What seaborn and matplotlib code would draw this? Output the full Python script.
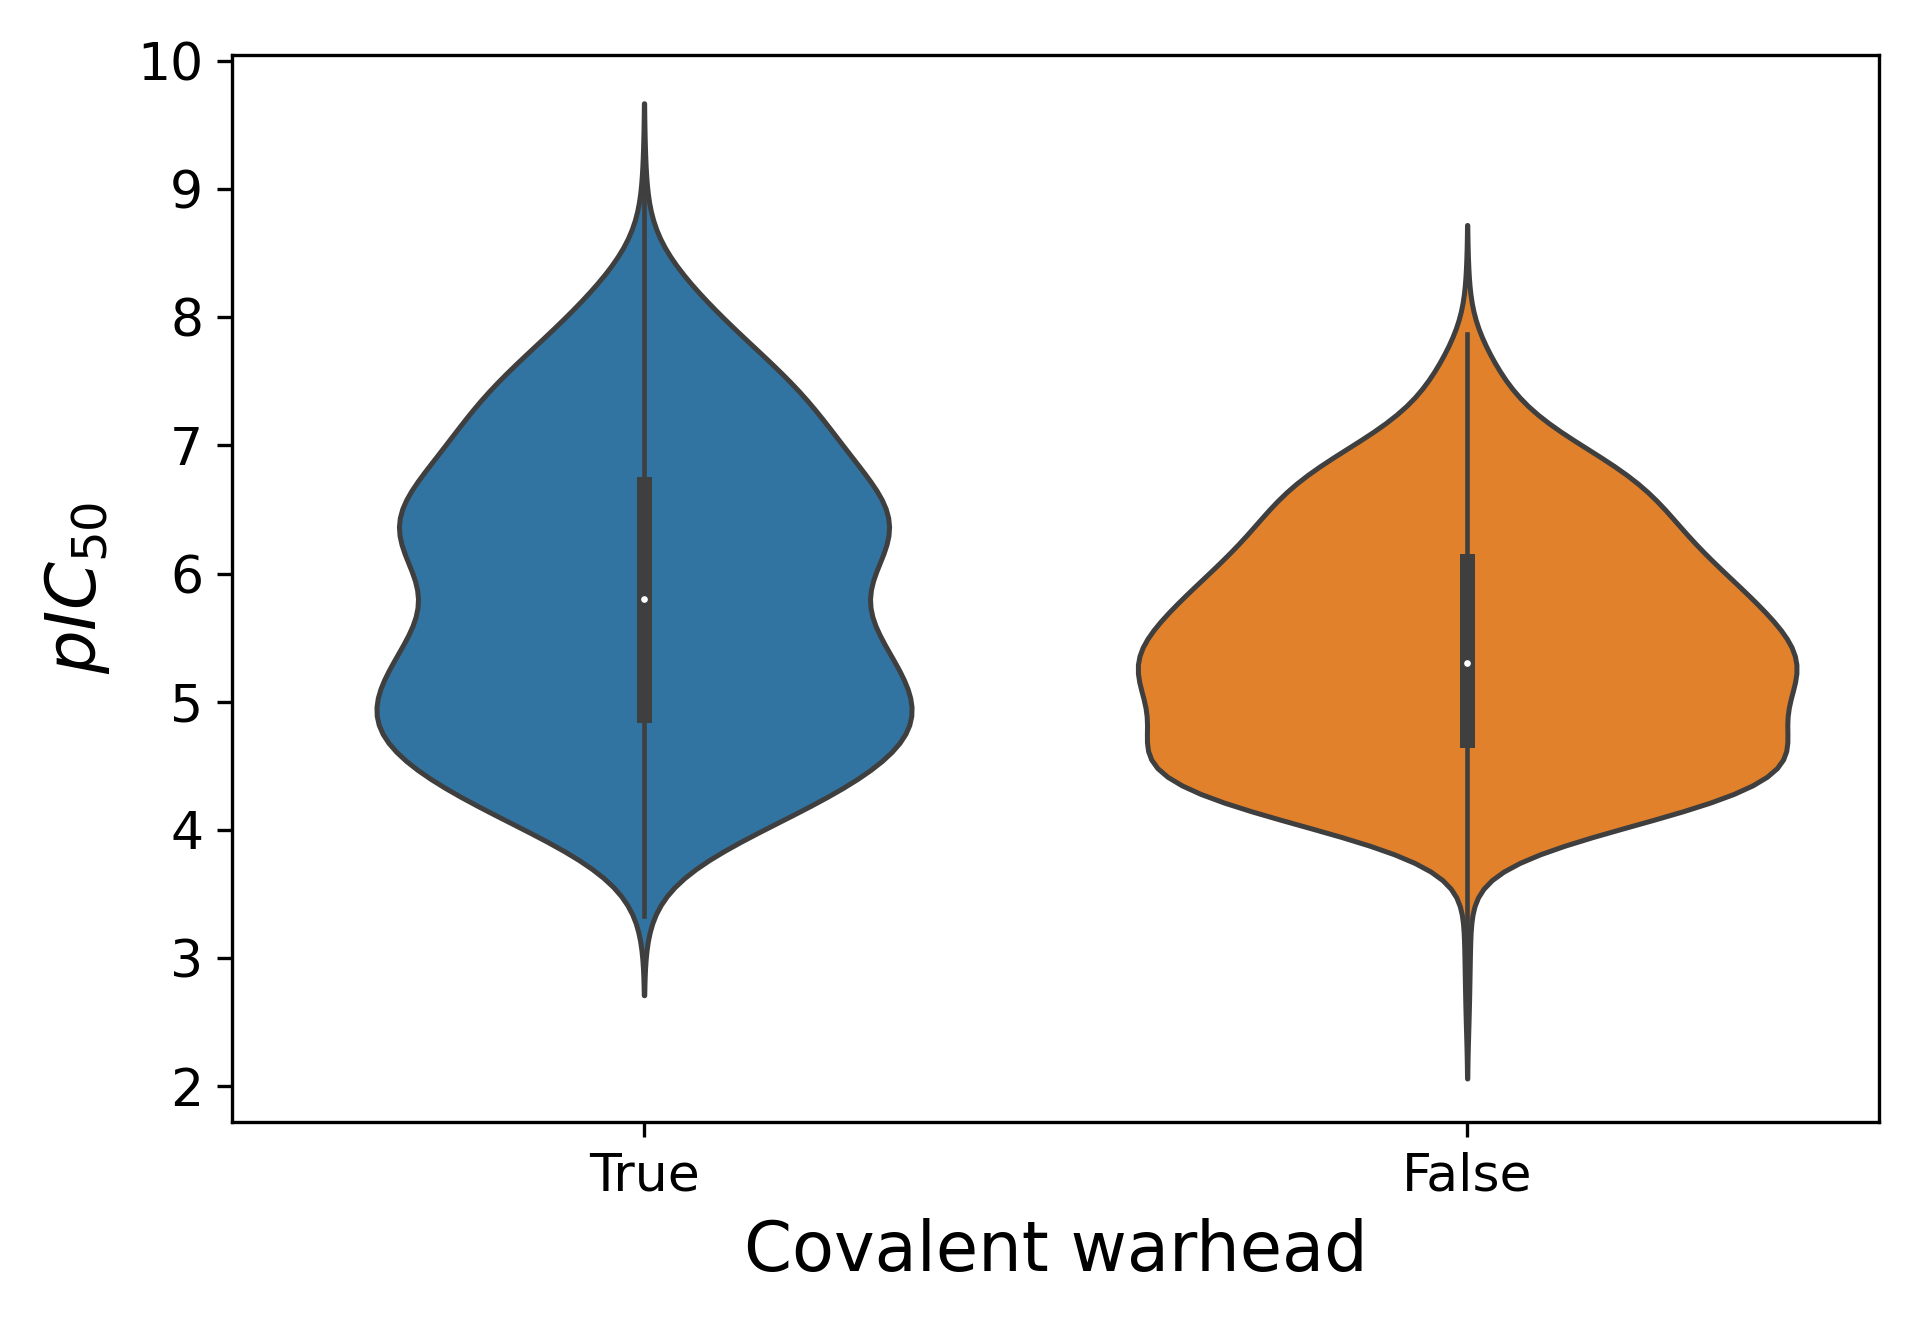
import numpy as np
import pandas as pd
import matplotlib
matplotlib.use("Agg")
import matplotlib.pyplot as plt
import seaborn as sns

plt.rcParams['font.family'] = ['DejaVu Sans']

# 공유결합 탄두 여부별 pIC50 분포 (0.1 단위 구간값, 구간별 개수)
groups = ["True", "False"]
colors = ["#1f77b4", "#ff7f0e"]

true_levels = [3.33, 3.5, 3.6, 3.7, 3.8, 3.9, 4.0, 4.1, 4.2, 4.3, 4.4, 4.5, 4.6, 4.7, 4.8, 4.9,
               5.0, 5.1, 5.2, 5.3, 5.4, 5.5, 5.6, 5.7, 5.8, 5.9, 6.0, 6.1, 6.2, 6.3, 6.4, 6.5,
               6.6, 6.7, 6.8, 6.9, 7.0, 7.1, 7.2, 7.3, 7.4, 7.5, 7.6, 7.7, 7.8, 7.9, 8.0, 8.1,
               8.2, 8.3, 8.4, 8.5, 8.7, 9.05]
true_counts = [1, 1, 1, 3, 6, 11, 14, 20, 24, 26, 28, 31, 33, 36, 37, 37,
               36, 34, 32, 31, 32, 31, 29, 26, 23, 25, 28, 31, 33, 34, 34, 34,
               32, 29, 26, 25, 25, 24, 23, 22, 21, 20, 17, 15, 13, 11, 9, 8,
               7, 6, 3, 1, 1, 1]

false_levels = [2.56, 2.87, 3.1, 3.3, 3.5, 3.65, 3.8, 3.9, 4.0, 4.1, 4.2, 4.3, 4.4, 4.5, 4.6, 4.7,
                4.8, 4.9, 5.0, 5.1, 5.2, 5.3, 5.4, 5.5, 5.6, 5.7, 5.8, 5.9, 6.0, 6.1, 6.2, 6.3,
                6.4, 6.5, 6.6, 6.7, 6.8, 6.9, 7.0, 7.1, 7.2, 7.3, 7.4, 7.5, 7.6, 7.7, 7.8, 7.87,
                8.22]
false_counts = [1, 1, 1, 1, 1, 1, 2, 9, 22, 37, 45, 50, 52, 54, 55, 52,
                48, 46, 49, 53, 56, 55, 54, 52, 49, 47, 46, 44, 41, 38, 36, 34,
                33, 32, 30, 29, 27, 25, 16, 12, 11, 8, 6, 6, 5, 4, 2, 1,
                1]

# 바이올린별 커널 폭(데이터 단위), 최대 폭
bandwidths = [0.31, 0.25]
widths = [0.65, 0.8]

fig, ax = plt.subplots(figsize=(1921 / 300, 1331 / 300), dpi=300)
fig.subplots_adjust(left=0.121, right=0.978, bottom=0.157, top=0.959)

for name, levels, counts, col, bw, w in zip(groups, [true_levels, false_levels],
                                            [true_counts, false_counts], colors,
                                            bandwidths, widths):
    vals = np.repeat(levels, counts)
    df = pd.DataFrame({"warhead": name, "pic50": vals})
    sns.violinplot(data=df, x="warhead", y="pic50", order=groups, color=col,
                   bw_method=bw / np.std(vals, ddof=1), cut=2, width=w,
                   linewidth=1.2, linecolor="#3f3f3f", inner="box",
                   inner_kws=dict(box_width=3.6, whis_width=1.1, marker="o",
                                  markersize=1.6, markeredgewidth=0,
                                  markerfacecolor="white"),
                   ax=ax)

ax.set_ylim(1.72, 10.05)
ax.set_yticks(range(2, 11))
ax.tick_params(labelsize=12.5)
ax.set_xlabel("Covalent warhead", fontsize=16.5)
ax.set_ylabel(r"$pIC_{50}$", fontsize=16.5, labelpad=6)

fig.savefig("out.png", dpi=300)
